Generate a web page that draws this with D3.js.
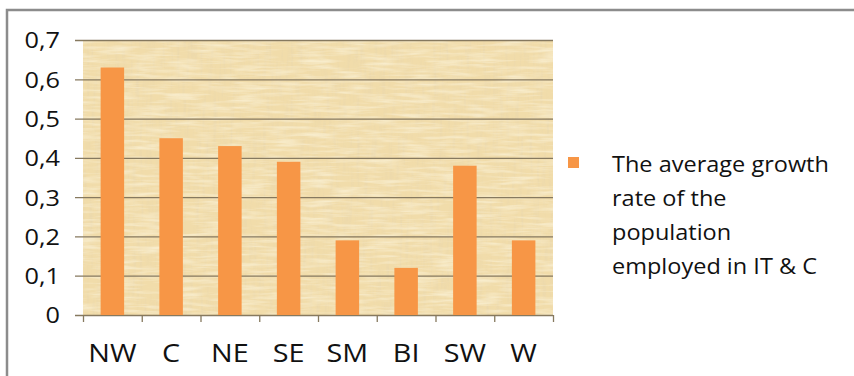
<!DOCTYPE html>
<html>
<head>
<meta charset="utf-8">
<script src="https://cdn.jsdelivr.net/npm/d3@7/dist/d3.min.js"></script>
<style>
  html, body { margin: 0; padding: 0; background: #ffffff; }
  svg { display: block; }
  text { font-family: "Open Sans", sans-serif; fill: #111; }
</style>
</head>
<body>
<svg id="chart" width="854" height="376"></svg>
<script>
// Regions and their average growth rate of IT & C employment
const regions = ["NW", "C", "NE", "SE", "SM", "BI", "SW", "W"];
const growthRate = [0.63, 0.45, 0.43, 0.39, 0.19, 0.12, 0.38, 0.19];
const yTicks = [0, 0.1, 0.2, 0.3, 0.4, 0.5, 0.6, 0.7];
const legendLines = ["The average growth", "rate of the", "population", "employed in IT & C"];

const W = 854, H = 376;
const plot = { left: 83, right: 553, top: 40, bottom: 315 };
const gridColor = "#86795f";
const barColor = "#f79646";

const svg = d3.select("#chart");

// papyrus-like texture for the plot background
const defs = svg.append("defs");
const tex = defs.append("filter").attr("id", "papyrus")
  .attr("x", 0).attr("y", 0).attr("width", 1).attr("height", 1);
tex.append("feTurbulence").attr("type", "fractalNoise")
  .attr("baseFrequency", "0.3 0.03").attr("numOctaves", 3).attr("seed", 4).attr("result", "n1");
tex.append("feColorMatrix").attr("in", "n1").attr("type", "matrix")
  .attr("values", "0 0 0 0 0.8  0 0 0 0 0.67  0 0 0 0 0.42  0 0 0 -2.2 1.2").attr("result", "c1");
tex.append("feTurbulence").attr("type", "fractalNoise")
  .attr("baseFrequency", "0.03 0.3").attr("numOctaves", 3).attr("seed", 9).attr("result", "n2");
tex.append("feColorMatrix").attr("in", "n2").attr("type", "matrix")
  .attr("values", "0 0 0 0 0.98  0 0 0 0 0.93  0 0 0 0 0.76  0 0 0 -2.2 1.3").attr("result", "c2");
tex.append("feMerge").selectAll("feMergeNode")
  .data(["c1", "c2"]).join("feMergeNode").attr("in", d => d);

// outer chart frame (top and left edges visible)
svg.append("path")
  .attr("d", d3.line()([[7, H], [7, 10], [W, 10]]))
  .attr("fill", "none").attr("stroke", "#8c8c8c").attr("stroke-width", 2.5);

const x = d3.scaleBand().domain(regions).range([plot.left, plot.right]).paddingInner(0.6).paddingOuter(0.3);
const y = d3.scaleLinear().domain([0, 0.7]).range([plot.bottom, plot.top]);

// plot area background
svg.append("rect")
  .attr("x", plot.left).attr("y", plot.top)
  .attr("width", plot.right - plot.left).attr("height", plot.bottom - plot.top)
  .attr("fill", "#f1dcaa");
svg.append("rect")
  .attr("x", plot.left).attr("y", plot.top)
  .attr("width", plot.right - plot.left).attr("height", plot.bottom - plot.top)
  .attr("fill", "#f1dcaa").attr("filter", "url(#papyrus)").attr("opacity", 0.6);

// horizontal gridlines with left tick marks
const fmt = v => v === 0 ? "0" : d3.format(".1f")(v).replace(".", ",");
const yAxis = d3.axisLeft(y).tickValues(yTicks).tickFormat(fmt)
  .tickSize(plot.right - plot.left + 8).tickPadding(0).tickSizeOuter(0);
const gy = svg.append("g").attr("transform", `translate(${plot.right},0)`).call(yAxis);
gy.select(".domain").remove();
gy.selectAll(".tick line")
  .attr("stroke", gridColor).attr("stroke-width", 1.3);
gy.selectAll(".tick text")
  .attr("x", null).attr("dy", "0.36em")
  .attr("transform", `translate(${60 - plot.right},0) scale(1.15,1)`)
  .style("font-size", "22px").attr("fill", "#111");

// bars
svg.append("g").selectAll("rect")
  .data(regions.map((r, i) => ({ r, v: growthRate[i] })))
  .join("rect")
  .attr("x", d => x(d.r)).attr("width", x.bandwidth())
  .attr("y", d => y(d.v)).attr("height", d => y(0) - y(d.v))
  .attr("fill", barColor);

// x axis with tick marks at category boundaries
const bx = d3.scaleLinear().domain([0, regions.length]).range([plot.left, plot.right]);
const gx = svg.append("g").attr("transform", `translate(0,${plot.bottom})`)
  .call(d3.axisBottom(bx).tickValues(d3.range(regions.length + 1)).tickFormat("").tickSize(7).tickSizeOuter(0));
gx.select(".domain").remove();
gx.selectAll(".tick line").attr("stroke", gridColor).attr("stroke-width", 1.3);

svg.append("g").selectAll("text")
  .data(regions).join("text")
  .attr("transform", d => `translate(${x(d) + x.bandwidth() / 2},362) scale(1.15,1)`)
  .attr("text-anchor", "middle")
  .style("font-size", "25px")
  .text(d => d);

// legend
const lg = svg.append("g");
lg.append("rect").attr("x", 568).attr("y", 157).attr("width", 11).attr("height", 11).attr("fill", barColor);
lg.selectAll("text").data(legendLines).join("text")
  .attr("transform", (d, i) => `translate(612,${172 + i * 34}) scale(1.12,1)`)
  .style("font-size", "21px")
  .text(d => d);
</script>
</body>
</html>
